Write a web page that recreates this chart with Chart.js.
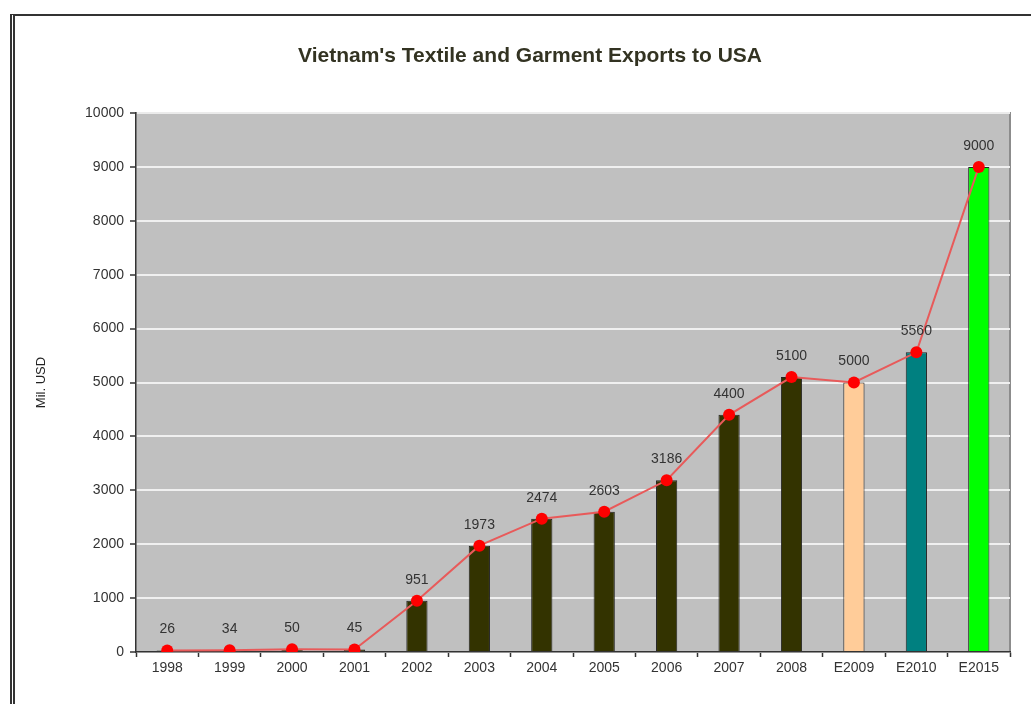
<!DOCTYPE html>
<html>
<head>
<meta charset="utf-8">
<script src="https://cdn.jsdelivr.net/npm/chart.js@4.4.1/dist/chart.umd.min.js"></script>
<style>
  html,body{margin:0;padding:0;background:#fff;overflow:hidden;}
  #frame{position:absolute;left:10px;top:14px;width:1040px;height:720px;border-left:5px double #333;border-top:2px solid #333;}
  #wrap{position:absolute;left:0;top:0;width:1031px;height:704px;}
</style>
</head>
<body>
<div id="frame"></div>
<div id="wrap"><canvas id="c"></canvas></div>
<script>
// data
const years  = ['1998','1999','2000','2001','2002','2003','2004','2005','2006','2007','2008','E2009','E2010','E2015'];
const values = [26, 34, 50, 45, 951, 1973, 2474, 2603, 3186, 4400, 5100, 5000, 5560, 9000];
const barColors = ['#333300','#333300','#333300','#333300','#333300','#333300','#333300','#333300','#333300','#333300','#333300','#ffcc99','#008080','#00ff00'];
const yTicks = [0,1000,2000,3000,4000,5000,6000,7000,8000,9000,10000];
const titleText = "Vietnam's Textile and Garment Exports to USA";

const FONT = 'Liberation Sans, Arial, sans-serif';

// gray plot area + top/right frame
const plotBg = {
  id:'plotBg',
  beforeDraw(ch){
    const a = ch.chartArea, g = ch.ctx;
    g.save();
    g.fillStyle = '#c0c0c0';
    g.fillRect(a.left, a.top, a.right-a.left, a.bottom-a.top);
    g.strokeStyle = '#8c8c8c'; g.lineWidth = 2;
    g.beginPath();
    g.moveTo(a.left, a.top); g.lineTo(a.right, a.top); g.lineTo(a.right, a.bottom);
    g.stroke();
    g.restore();
  }
};

// value labels above line points + chart title
const labels = {
  id:'labels',
  afterDatasetsDraw(ch){
    const g = ch.ctx;
    const meta = ch.getDatasetMeta(1);
    g.save();
    g.font = '14px ' + FONT;
    g.fillStyle = '#333';
    g.textAlign = 'center';
    g.textBaseline = 'middle';
    meta.data.forEach((p,i)=>{ g.fillText(String(values[i]), p.x, p.y - 21); });
    g.font = 'bold 21px ' + FONT;
    g.fillStyle = '#333322';
    g.fillText(titleText, 530, 56);
    g.restore();
  }
};

new Chart(document.getElementById('c'), {
  data:{
    labels: years,
    datasets:[
      { type:'bar', data: values, backgroundColor: barColors, borderColor:'#222', borderWidth:1,
        barPercentage:0.34, categoryPercentage:1, order:2 },
      { type:'line', data: values, borderColor:'#e85a5a', borderWidth:2, tension:0,
        pointRadius:6, pointBackgroundColor:'#ff0000', pointBorderWidth:0, order:1 }
    ]
  },
  options:{
    responsive:true, maintainAspectRatio:false, animation:false,
    layout:{ padding:{ top:113, right:21, left:0, bottom:0 } },
    plugins:{ legend:{display:false}, tooltip:{enabled:false}, title:{display:false} },
    scales:{
      x:{
        offset:true,
        grid:{ offset:true, drawOnChartArea:false, drawTicks:true, tickLength:5, color:'#333', tickWidth:1.5 },
        border:{ color:'#333', width:1.5 },
        ticks:{ color:'#333', font:{family:FONT, size:14}, padding:3, maxRotation:0, autoSkip:false },
        afterFit(s){ s.height = 52; }
      },
      y:{
        min:0, max:10000,
        afterBuildTicks(s){ s.ticks = yTicks.map(v=>({value:v})); },
        grid:{ color:'rgba(245,245,245,0.9)', lineWidth:2, drawTicks:true, tickLength:6,
               tickColor:'#333', tickWidth:1.5 },
        border:{ color:'#333', width:1.5 },
        ticks:{ color:'#333', font:{family:FONT, size:14}, padding:6, callback:v=>String(v) },
        title:{ display:true, text:'Mil. USD', color:'#222', font:{family:FONT, size:13}, padding:{top:34, bottom:0} },
        afterFit(s){ s.width = 136; }
      }
    }
  },
  plugins:[plotBg, labels]
});
</script>
</body>
</html>
